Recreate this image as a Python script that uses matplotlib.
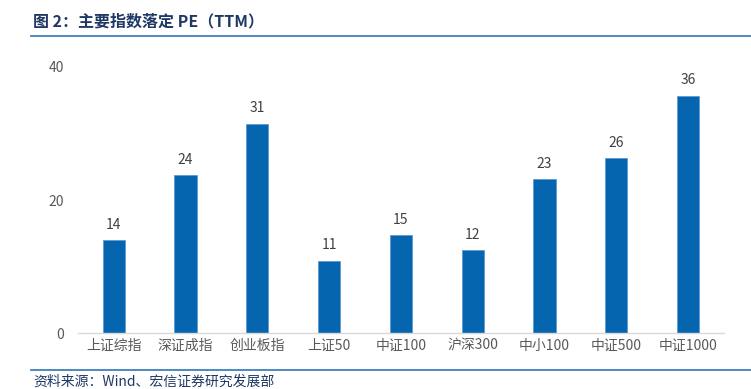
import numpy as np
import matplotlib.pyplot as plt
from matplotlib.lines import Line2D

plt.rcParams['font.family'] = ['Noto Sans CJK SC', 'DejaVu Sans']

# data
categories = ['上证综指', '深证成指', '创业板指', '上证50', '中证100', '沪深300', '中小100', '中证500', '中证1000']
pe_values = [13.95, 23.7, 31.4, 10.85, 14.7, 12.45, 23.1, 26.25, 35.6]
pe_labels = ['14', '24', '31', '11', '15', '12', '23', '26', '36']
y_ticks = [0, 20, 40]

fig = plt.figure(figsize=(7.51, 3.89), dpi=100)
ax = fig.add_axes([0.1035, 0.1431, 0.8605, 0.6855])

x = np.arange(len(categories))
bars = ax.bar(x, pe_values, width=0.31, color='#0565AE', edgecolor='#5B9BD5', linewidth=0.6)

for xi, v, lab in zip(x, pe_values, pe_labels):
    ax.text(xi, v + 1.3, lab, ha='center', va='bottom', fontsize=10, color='#404040')

ax.set_xlim(-0.5, len(categories) - 0.5)
ax.set_ylim(0, 40)
ax.set_yticks(y_ticks)
ax.set_xticks(x)
ax.set_xticklabels(categories, fontsize=10, color='#595959')
ax.tick_params(axis='y', length=0, labelsize=10, labelcolor='#595959', pad=10)
ax.tick_params(axis='x', length=0, pad=4)

for side in ['top', 'right', 'left']:
    ax.spines[side].set_visible(False)
ax.spines['bottom'].set_color('#D9D9D9')
ax.spines['bottom'].set_linewidth(1)

# title and source
fig.text(0.044, 0.944, '图 2：主要指数落定 PE（TTM）', fontsize=11.5, fontweight='bold',
         color='#1F3864', ha='left', va='center')
fig.add_artist(Line2D([0.041, 1.0], [0.907, 0.907], color='#2E75B6', linewidth=1.2))
fig.add_artist(Line2D([0.041, 1.0], [0.049, 0.049], color='#2E75B6', linewidth=1.2))
fig.text(0.044, 0.019, '资料来源：Wind、宏信证券研究发展部', fontsize=10, color='#1F3864',
         ha='left', va='center')

fig.savefig('out.png', dpi=100)
